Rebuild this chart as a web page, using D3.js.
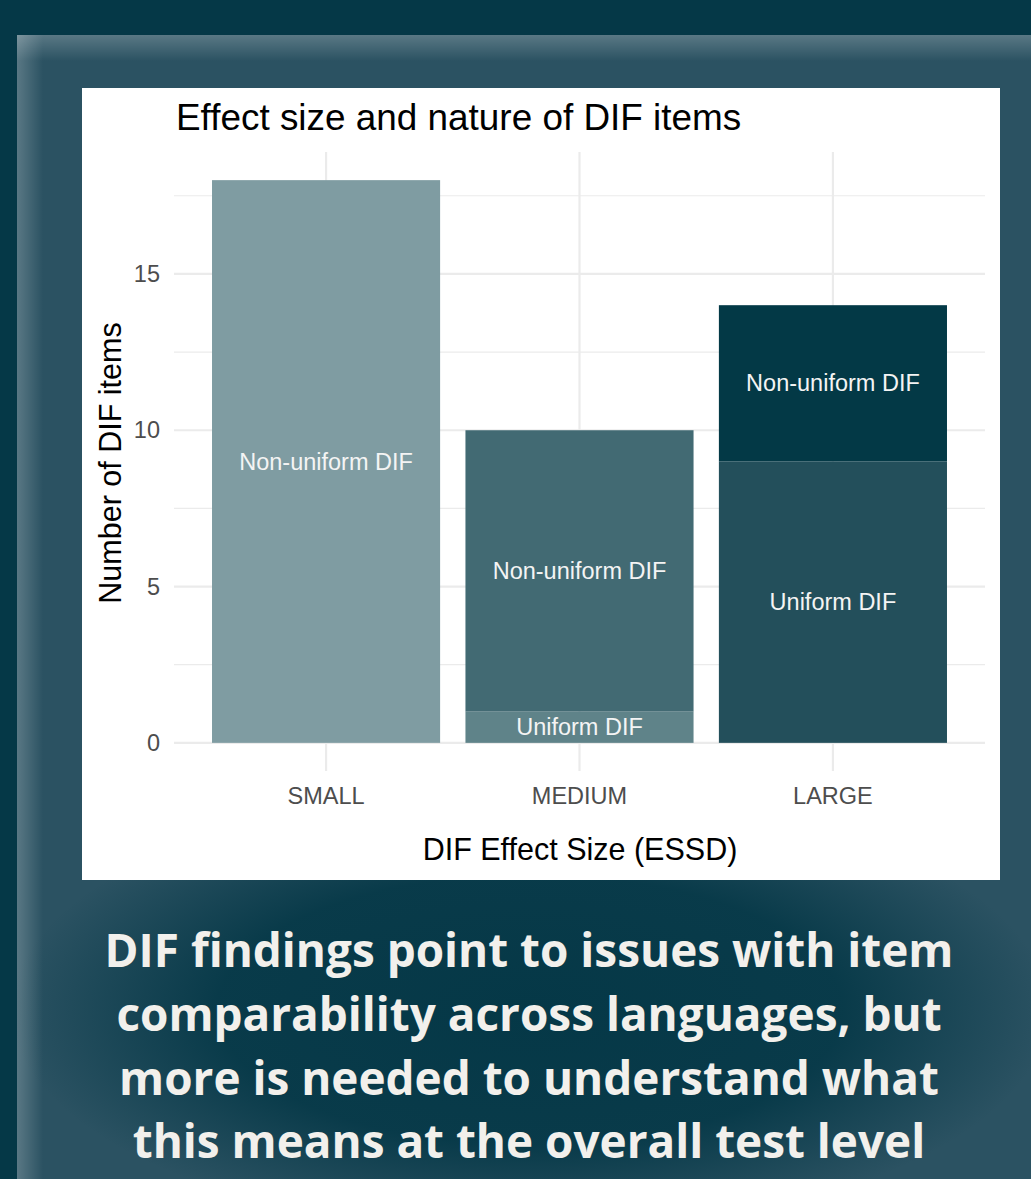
<!DOCTYPE html>
<html>
<head>
<meta charset="utf-8">
<script src="https://cdn.jsdelivr.net/npm/d3@7"></script>
<style>
  html, body { margin: 0; padding: 0; background: #053847; }
  svg { display: block; }
</style>
</head>
<body>
<svg id="chart" width="1031" height="1179"></svg>
<script>
// data
const categories = ["SMALL", "MEDIUM", "LARGE"];
const uniform = [0, 1, 9];
const nonUniform = [18, 9, 5];
const seriesKeys = ["Uniform DIF", "Non-uniform DIF"];
const yTicks = [0, 5, 10, 15];
const yMinor = [2.5, 7.5, 12.5, 17.5];
const captionLines = [
    "DIF findings point to issues with item",
    "comparability across languages, but",
    "more is needed to understand what",
    "this means at the overall test level"
];

// fill per category, per series
const fills = {
    SMALL:  { "Uniform DIF": "#5f8389", "Non-uniform DIF": "#7f9ca2" },
    MEDIUM: { "Uniform DIF": "#5f8389", "Non-uniform DIF": "#426a73" },
    LARGE:  { "Uniform DIF": "#234f5b", "Non-uniform DIF": "#033946" }
};

const svg = d3.select("#chart");
const W = 1031, H = 1179;

// background + panel
const defs = svg.append("defs");
const topBevel = defs.append("linearGradient").attr("id", "topBevel")
    .attr("x1", 0).attr("y1", 0).attr("x2", 0).attr("y2", 1);
topBevel.append("stop").attr("offset", "0%").attr("stop-color", "#ffffff").attr("stop-opacity", 0.22);
topBevel.append("stop").attr("offset", "100%").attr("stop-color", "#ffffff").attr("stop-opacity", 0);
const leftBevel = defs.append("linearGradient").attr("id", "leftBevel")
    .attr("x1", 0).attr("y1", 0).attr("x2", 1).attr("y2", 0);
leftBevel.append("stop").attr("offset", "0%").attr("stop-color", "#ffffff").attr("stop-opacity", 0.22);
leftBevel.append("stop").attr("offset", "100%").attr("stop-color", "#ffffff").attr("stop-opacity", 0);
const glow = defs.append("radialGradient").attr("id", "glow")
    .attr("cx", 0.5).attr("cy", 0.5).attr("r", 0.5);
glow.append("stop").attr("offset", "0%").attr("stop-color", "#053847").attr("stop-opacity", 1);
glow.append("stop").attr("offset", "60%").attr("stop-color", "#053847").attr("stop-opacity", 0.9);
glow.append("stop").attr("offset", "100%").attr("stop-color", "#053847").attr("stop-opacity", 0);

svg.append("rect").attr("width", W).attr("height", H).attr("fill", "#053847");
svg.append("rect").attr("x", 17).attr("y", 35).attr("width", W - 17).attr("height", H - 35).attr("fill", "#2b5262");
svg.append("ellipse").attr("cx", 530).attr("cy", 1010).attr("rx", 520).attr("ry", 225)
    .attr("fill", "url(#glow)");
svg.append("rect").attr("x", 17).attr("y", 35).attr("width", W - 17).attr("height", 26).attr("fill", "url(#topBevel)");
svg.append("rect").attr("x", 17).attr("y", 35).attr("width", 26).attr("height", H - 35).attr("fill", "url(#leftBevel)");

// white plot card
svg.append("rect").attr("x", 82).attr("y", 88).attr("width", 918).attr("height", 792).attr("fill", "#ffffff");

// scales
const x = d3.scaleBand()
    .domain(categories)
    .range([174, 985])
    .paddingInner(0.1)
    .paddingOuter(0.15);

const y = d3.scaleLinear()
    .domain([-0.9, 18.9])
    .range([771, 152]);

// grid
const grid = svg.append("g");
grid.selectAll("line.minor").data(yMinor).enter().append("line")
    .attr("x1", 174).attr("x2", 985)
    .attr("y1", d => y(d)).attr("y2", d => y(d))
    .attr("stroke", "#ebebeb").attr("stroke-width", 1.2);
grid.selectAll("line.major").data(yTicks).enter().append("line")
    .attr("x1", 174).attr("x2", 985)
    .attr("y1", d => y(d)).attr("y2", d => y(d))
    .attr("stroke", "#ebebeb").attr("stroke-width", 2.2);
grid.selectAll("line.vert").data(categories).enter().append("line")
    .attr("x1", d => x(d) + x.bandwidth() / 2).attr("x2", d => x(d) + x.bandwidth() / 2)
    .attr("y1", 152).attr("y2", 771)
    .attr("stroke", "#ebebeb").attr("stroke-width", 2.2);

// stacked bars
const rows = categories.map((c, i) => ({ cat: c, "Uniform DIF": uniform[i], "Non-uniform DIF": nonUniform[i] }));
const stacked = d3.stack().keys(seriesKeys)(rows);

const segs = [];
stacked.forEach(layer => {
    layer.forEach(d => {
        if (d[1] - d[0] > 0) segs.push({ key: layer.key, cat: d.data.cat, y0: d[0], y1: d[1] });
    });
});

svg.append("g").selectAll("rect").data(segs).enter().append("rect")
    .attr("x", d => x(d.cat))
    .attr("width", x.bandwidth())
    .attr("y", d => y(d.y1))
    .attr("height", d => y(d.y0) - y(d.y1))
    .attr("fill", d => fills[d.cat][d.key]);

svg.append("g").selectAll("text").data(segs).enter().append("text")
    .attr("x", d => x(d.cat) + x.bandwidth() / 2)
    .attr("y", d => y((d.y0 + d.y1) / 2))
    .attr("text-anchor", "middle")
    .attr("dominant-baseline", "central")
    .attr("font-family", "'Liberation Sans', Arial, sans-serif")
    .attr("font-size", 23.5)
    .attr("fill", "#f4f4f4")
    .text(d => d.key);

// axes
const yAxis = svg.append("g")
    .attr("transform", "translate(174,0)")
    .call(d3.axisLeft(y).tickValues(yTicks).tickSize(0).tickPadding(14));
yAxis.select(".domain").remove();
yAxis.selectAll("text")
    .attr("font-family", "'Liberation Sans', Arial, sans-serif")
    .attr("font-size", 23.5)
    .attr("fill", "#4d4d4d");

const xAxis = svg.append("g")
    .attr("transform", "translate(0,771)")
    .call(d3.axisBottom(x).tickSize(0).tickPadding(16));
xAxis.select(".domain").remove();
xAxis.selectAll("text")
    .attr("font-family", "'Liberation Sans', Arial, sans-serif")
    .attr("font-size", 23.5)
    .attr("fill", "#4d4d4d");

// titles
svg.append("text")
    .attr("x", 176).attr("y", 130)
    .attr("font-family", "'Liberation Sans', Arial, sans-serif")
    .attr("font-size", 36.9)
    .attr("fill", "#000")
    .text("Effect size and nature of DIF items");

svg.append("text")
    .attr("x", 580).attr("y", 860)
    .attr("text-anchor", "middle")
    .attr("font-family", "'Liberation Sans', Arial, sans-serif")
    .attr("font-size", 30.5)
    .attr("fill", "#000")
    .text("DIF Effect Size (ESSD)");

svg.append("text")
    .attr("transform", "translate(121,463) rotate(-90)")
    .attr("text-anchor", "middle")
    .attr("font-family", "'Liberation Sans', Arial, sans-serif")
    .attr("font-size", 30.5)
    .attr("fill", "#000")
    .text("Number of DIF items");

// caption
const baselines = [967, 1031, 1095, 1158];
const cap = svg.append("g")
    .attr("font-family", "'Open Sans', 'Noto Sans', sans-serif")
    .attr("font-weight", 700)
    .attr("fill", "#f2f0ec")
    .attr("text-anchor", "middle");
const capText = cap.selectAll("text").data(captionLines).enter().append("text")
    .attr("x", 529)
    .attr("y", (d, i) => baselines[i])
    .attr("font-size", 50)
    .text(d => d);
const w0 = capText.nodes()[0].getComputedTextLength();
capText.attr("font-size", 50 * 849 / w0);
</script>
</body>
</html>
